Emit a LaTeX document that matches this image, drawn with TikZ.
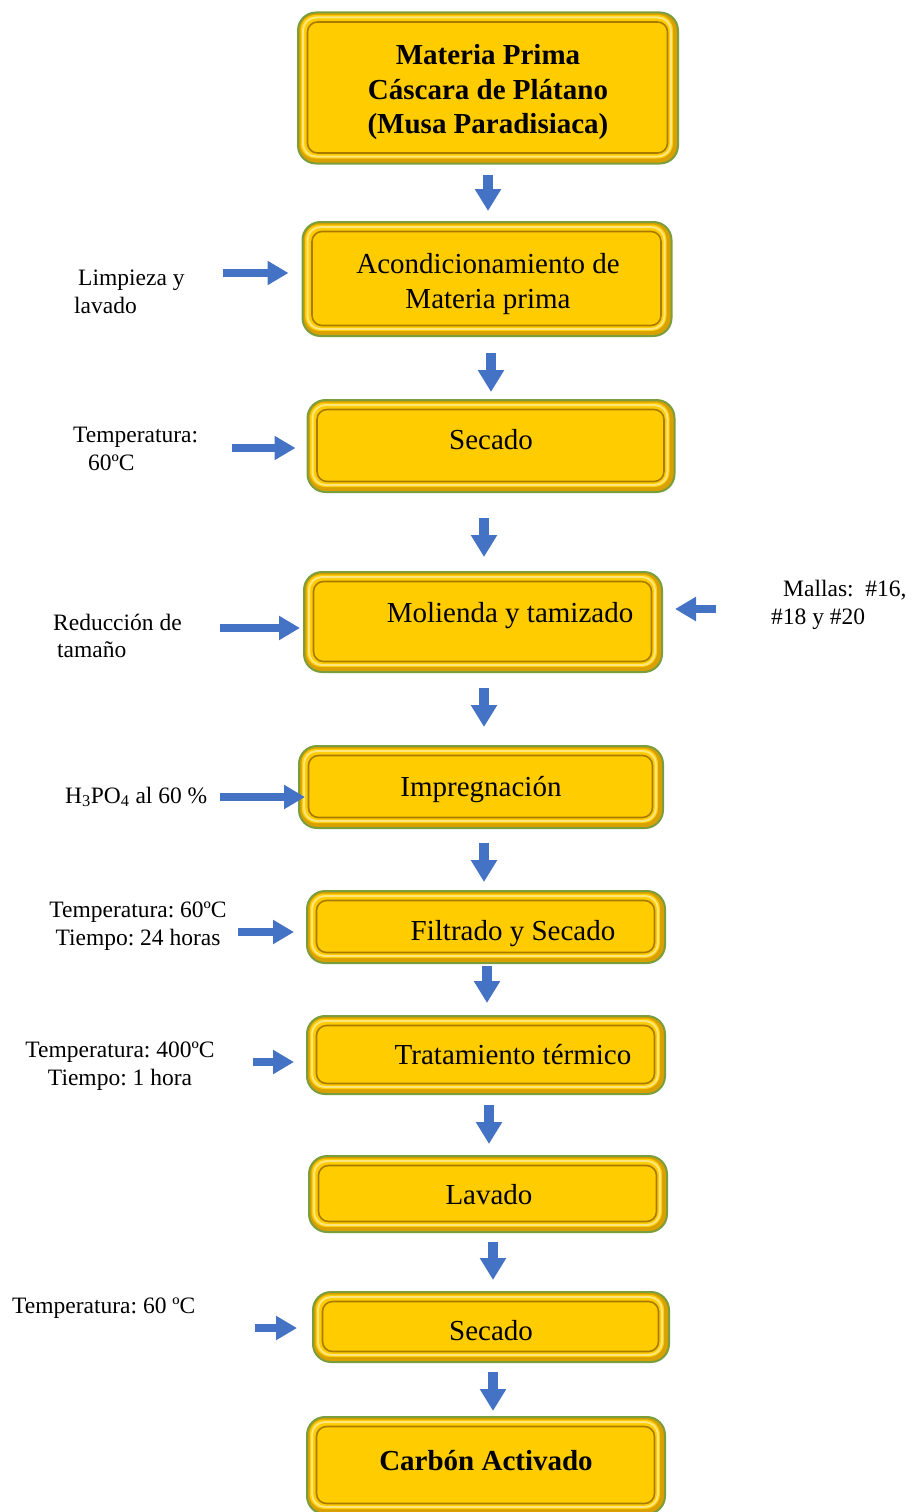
\documentclass[tikz,border=0pt]{standalone}
\usepackage{fontspec}
\setmainfont{Liberation Serif}
\usetikzlibrary{arrows.meta,calc}
\definecolor{boxyellow}{HTML}{FFCC00}
\definecolor{boxgreen}{HTML}{7A9E3C}
\definecolor{darkgold}{HTML}{D9A000}
\definecolor{frameline}{HTML}{A97A00}
\definecolor{hilite}{HTML}{FFE680}
\definecolor{arrowblue}{HTML}{4472C4}
\tikzset{
  stepbox/.style={draw=boxgreen, line width=2pt, fill=darkgold, rounded corners=18pt,
    inner sep=0pt,
    path picture={
      \fill[boxyellow, rounded corners=15pt]
        ([shift={(2.5pt,-2.5pt)}]path picture bounding box.north west) rectangle
        ([shift={(-5pt,5pt)}]path picture bounding box.south east);
      \draw[hilite, line width=2pt, rounded corners=13pt]
        ([shift={(5pt,-5pt)}]path picture bounding box.north west) rectangle
        ([shift={(-7pt,7pt)}]path picture bounding box.south east);
      \draw[frameline, line width=1.6pt, rounded corners=10pt]
        ([shift={(9.5pt,-9.5pt)}]path picture bounding box.north west) rectangle
        ([shift={(-10.5pt,10.5pt)}]path picture bounding box.south east);
    }},
  boxtext/.style={font=\fontsize{29}{35}\selectfont, inner sep=0pt, align=center},
  sidetext/.style={font=\fontsize{23.5}{27.5}\selectfont, inner sep=0pt},
  blk/.style={draw=arrowblue, line width=9.5pt, -{Triangle[width=25pt,length=22pt]}},
  sidearr/.style={draw=arrowblue, line width=8pt, -{Triangle[width=23pt,length=21pt]}},
}
\begin{document}
\frenchspacing
\begin{tikzpicture}[x=1pt,y=1pt]
\useasboundingbox (0,0) rectangle (912,-1512);
% boxes
\node[stepbox, minimum width=380pt, minimum height=151pt] (b1) at (488,-88) {};
\node[stepbox, minimum width=369pt, minimum height=114pt] (b2) at (487,-279) {};
\node[stepbox, minimum width=367pt, minimum height=92pt] (b3) at (491,-446) {};
\node[stepbox, minimum width=358pt, minimum height=100pt] (b4) at (483,-622) {};
\node[stepbox, minimum width=364pt, minimum height=82pt] (b5) at (481,-787) {};
\node[stepbox, minimum width=358pt, minimum height=72pt] (b6) at (486,-927) {};
\node[stepbox, minimum width=358pt, minimum height=78pt] (b7) at (486,-1055) {};
\node[stepbox, minimum width=358pt, minimum height=76pt] (b8) at (488,-1194) {};
\node[stepbox, minimum width=356pt, minimum height=70pt] (b9) at (491,-1327) {};
\node[stepbox, minimum width=358pt, minimum height=97pt] (b10) at (486,-1465.5) {};
% box texts
\node[boxtext, anchor=north, font=\fontsize{29}{34.5}\bfseries] (t1) at (488,-44.5)
  {Materia Prima\\Cáscara de Plátano\\(Musa Paradisiaca)};
\node[boxtext, anchor=north] (t2) at (488,-253)
  {Acondicionamiento de\\Materia prima};
\node[boxtext, anchor=base] (t3) at (491,-449) {Secado};
\node[boxtext, anchor=base] (t4) at (510,-622) {Molienda y tamizado};
\node[boxtext, anchor=base] (t5) at (481,-796) {Impregnación};
\node[boxtext, anchor=base] (t6) at (513,-940) {Filtrado y Secado};
\node[boxtext, anchor=base] (t7) at (513,-1064) {Tratamiento térmico};
\node[boxtext, anchor=base] (t8) at (489,-1204) {Lavado};
\node[boxtext, anchor=base] (t9) at (491,-1340) {Secado};
\node[boxtext, anchor=base, font=\fontsize{29}{35}\bfseries] (t10) at (486,-1470) {Carbón Activado};
% side labels
\node[sidetext, anchor=west, align=left] (l2) at (74,-292)
  {\hspace{4pt}Limpieza y\\lavado};
\node[sidetext, anchor=west, align=left] (l3) at (73,-449)
  {Temperatura:\\\hspace{15pt}60ºC};
\node[sidetext, anchor=west, align=left] (l4) at (53,-636)
  {Reducción de\\\hspace{4pt}tamaño};
\node[sidetext, anchor=west, align=left] (m4) at (771,-605)
  {\hspace{12pt}Mallas:\ \ \#16,\\\#18 y \#20};
\node[sidetext, anchor=west] (l5) at (65,-797)
  {H\textsubscript{3}PO\textsubscript{4} al 60 \%};
\node[sidetext, align=center] (l6) at (138,-926)
  {Temperatura: 60ºC\\Tiempo: 24 horas};
\node[sidetext, align=center] (l7) at (120,-1066)
  {Temperatura: 400ºC\\Tiempo: 1 hora};
\node[sidetext, anchor=west] (l9) at (12,-1308)
  {Temperatura: 60 ºC};
% down arrows
\draw[blk] ($(b1.south)+(0,-10)$) -- ($(b2.north)+(1,10)$);
\draw[blk] ($(b2.south)+(4,-16)$) -- ($(b3.north)+(0,7)$);
\draw[blk] ($(b3.south)+(-7,-25)$) -- ($(b4.north)+(1,14)$);
\draw[blk] ($(b4.south)+(1,-15)$) -- ($(b5.north)+(3,18)$);
\draw[blk] ($(b5.south)+(3,-14)$) -- ($(b6.north)+(-2,8)$);
\draw[blk] ($(b6.south)+(1,-2)$) -- ($(b7.north)+(1,12)$);
\draw[blk] ($(b7.south)+(3,-10)$) -- ($(b8.north)+(1,11)$);
\draw[blk] ($(b8.south)+(5,-9)$) -- ($(b9.north)+(2,11)$);
\draw[blk] ($(b9.south)+(2,-9)$) -- ($(b10.north)+(7,5)$);
% side arrows
\draw[sidearr] ($(b2.west)+(-79,6)$) -- ($(b2.west)+(-13,6)$);
\draw[sidearr] ($(b3.west)+(-75,-2)$) -- ($(b3.west)+(-11,-2)$);
\draw[sidearr] ($(b4.west)+(-83,-6)$) -- ($(b4.west)+(-3,-6)$);
\draw[sidearr] ($(b4.east)+(53,13)$) -- ($(b4.east)+(12,13)$);
\draw[sidearr] ($(b5.west)+(-78,-10)$) -- ($(b5.west)+(7,-10)$);
\draw[sidearr] ($(b6.west)+(-68,-5)$) -- ($(b6.west)+(-12,-5)$);
\draw[sidearr] ($(b7.west)+(-53,-7)$) -- ($(b7.west)+(-12,-7)$);
\draw[sidearr] ($(b9.west)+(-57,-1)$) -- ($(b9.west)+(-15,-1)$);
\end{tikzpicture}
\end{document}
